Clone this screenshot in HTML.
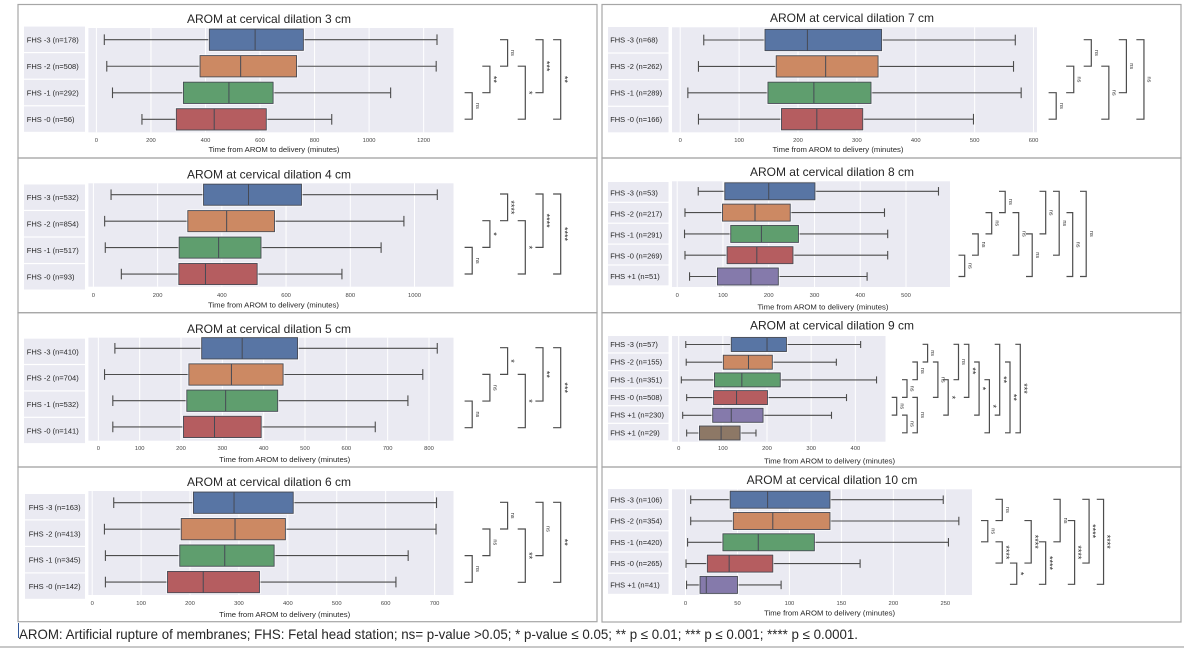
<!DOCTYPE html>
<html lang="en">
<head>
<meta charset="utf-8">
<title>AROM boxplots by cervical dilation</title>
<style>
html,body{margin:0;padding:0;background:#fff;width:1193px;height:649px;overflow:hidden}
svg{display:block;filter:blur(0.3px)}
text{font-family:"Liberation Sans",sans-serif;fill:#262626}
</style>
</head>
<body>
<svg id="figure" xmlns="http://www.w3.org/2000/svg" width="1193" height="649" viewBox="0 0 1193 649">
<text x="19" y="639" font-size="13.6" textLength="839" lengthAdjust="spacingAndGlyphs">AROM: Artificial rupture of membranes; FHS: Fetal head station; ns= p-value &gt;0.05; * p-value ≤ 0.05; ** p ≤ 0.01; *** p ≤ 0.001; **** p ≤ 0.0001.</text>
<line x1="18.5" y1="623" x2="18.5" y2="638" stroke="#2f5597" stroke-width="1"/>
<line x1="0" y1="647" x2="1184" y2="647" stroke="#a8a8a8" stroke-width="1.2"/>
</svg>
<script>
// ---- Chart data: [whisker low, Q1, median, Q3, whisker high] split in named arrays ----
const d3Categories = ['FHS -3 (n=178)','FHS -2 (n=508)','FHS -1 (n=292)','FHS -0 (n=56)'];
const d3Low = [29,38,59,167];
const d3Q1 = [414,380,319,293];
const d3Median = [582,529,486,432];
const d3Q3 = [759,734,648,623];
const d3High = [1249,1246,1079,863];
const d3Ticks = [0,200,400,600,800,1000,1200];
const d3SigFrom = [2,1,0,1,0,0];
const d3SigTo = [3,2,1,3,2,3];
const d3SigLabels = ['ns','**','ns','*','***','**'];

const d4Categories = ['FHS -3 (n=532)','FHS -2 (n=854)','FHS -1 (n=517)','FHS -0 (n=93)'];
const d4Low = [55,35,37,87];
const d4Q1 = [343,294,267,266];
const d4Median = [483,415,390,349];
const d4Q3 = [648,564,522,510];
const d4High = [1071,967,896,774];
const d4Ticks = [0,200,400,600,800,1000];
const d4SigFrom = [2,1,0,1,0,0];
const d4SigTo = [3,2,1,3,2,3];
const d4SigLabels = ['ns','*','****','*','****','****'];

const d5Categories = ['FHS -3 (n=410)','FHS -2 (n=704)','FHS -1 (n=532)','FHS -0 (n=141)'];
const d5Low = [40,15,35,35];
const d5Q1 = [250,219,214,206];
const d5Median = [348,322,308,281];
const d5Q3 = [482,447,434,394];
const d5High = [820,785,749,670];
const d5Ticks = [0,100,200,300,400,500,600,700,800];
const d5SigFrom = [2,1,0,1,0,0];
const d5SigTo = [3,2,1,3,2,3];
const d5SigLabels = ['ns','ns','*','*','**','***'];

const d6Categories = ['FHS -3 (n=163)','FHS -2 (n=413)','FHS -1 (n=345)','FHS -0 (n=142)'];
const d6Low = [44,25,27,27];
const d6Q1 = [207,182,179,154];
const d6Median = [290,292,271,227];
const d6Q3 = [411,395,372,342];
const d6High = [704,703,646,621];
const d6Ticks = [0,100,200,300,400,500,600,700];
const d6SigFrom = [2,1,0,1,0,0];
const d6SigTo = [3,2,1,3,2,3];
const d6SigLabels = ['ns','ns','ns','**','ns','**'];

const d7Categories = ['FHS -3 (n=68)','FHS -2 (n=262)','FHS -1 (n=289)','FHS -0 (n=166)'];
const d7Low = [40,31,13,31];
const d7Q1 = [144,163,149,172];
const d7Median = [216,247,227,232];
const d7Q3 = [342,336,324,310];
const d7High = [569,566,579,498];
const d7Ticks = [0,100,200,300,400,500,600];
const d7SigFrom = [2,1,0,1,0,0];
const d7SigTo = [3,2,1,3,2,3];
const d7SigLabels = ['ns','ns','ns','ns','ns','ns'];

const d8Categories = ['FHS -3 (n=53)','FHS -2 (n=217)','FHS -1 (n=291)','FHS -0 (n=269)','FHS +1 (n=51)'];
const d8Low = [46,17,16,17,27];
const d8Q1 = [104,99,117,109,88];
const d8Median = [200,170,184,174,161];
const d8Q3 = [301,247,265,253,221];
const d8High = [571,453,460,460,415];
const d8Ticks = [0,100,200,300,400,500];
const d8SigFrom = [3,2,1,0,1,2,0,0,1,0];
const d8SigTo = [4,3,2,1,3,4,2,3,4,4];
const d8SigLabels = ['ns','ns','ns','ns','ns','ns','ns','ns','ns','ns'];

const d9Categories = ['FHS -3 (n=57)','FHS -2 (n=155)','FHS -1 (n=351)','FHS -0 (n=508)','FHS +1 (n=230)','FHS +1 (n=29)'];
const d9Low = [16,17,6,18,9,18];
const d9Q1 = [119,101,81,79,77,47];
const d9Median = [200,158,143,131,119,96];
const d9Q3 = [244,212,230,201,191,139];
const d9High = [412,357,448,380,346,175];
const d9Ticks = [0,100,200,300,400];
const d9SigFrom = [3,4,2,1,3,0,1,2,0,0,1,2,0,1,0];
const d9SigTo = [4,5,3,2,5,1,3,4,2,3,4,5,4,5,5];
const d9SigSlots = [0,1,1,2,2,3,4,5,6,7,8,9,10,11,12];
const d9SigLabels = ['ns','ns','ns','ns','ns','ns','ns','*','ns','**','*','*','**','**','***'];

const d10Categories = ['FHS -3 (n=106)','FHS -2 (n=354)','FHS -1 (n=420)','FHS -0 (n=265)','FHS +1 (n=41)'];
const d10Low = [5,5,2,0.5,1];
const d10Q1 = [43,46,36,21,14];
const d10Median = [79,84,70,42,20];
const d10Q3 = [139,139,124,84,50];
const d10High = [248,263,253,168,92];
const d10Ticks = [0,50,100,150,200,250];
const d10SigFrom = [1,0,2,3,1,2,0,1,0,0];
const d10SigTo = [2,1,3,4,3,4,2,4,3,4];
const d10SigSlots = [0,1,1,2,3,4,5,6,7,8];
const d10SigLabels = ['ns','ns','****','*','****','****','ns','****','****','****'];

const boxColors = ['#5875a4','#cc8963','#5f9e6e','#b55d60','#857aab','#8d7866'];

// ---- Layout (pixels) kept apart from the data ----
const charts = [
 {title:'AROM at cervical dilation 3 cm',cat:d3Categories,low:d3Low,q1:d3Q1,med:d3Median,q3:d3Q3,high:d3High,ticks:d3Ticks,from:d3SigFrom,to:d3SigTo,sig:d3SigLabels,
  frame:[18,4.5,579,153.5],titleX:269,titleY:23,lab:[24,85,26.8],plot:[88.4,453.5,28,132.3],x0:96.4,k:.2727,boxY:39.7,boxStep:26.55,boxH:21.3,labY:39.7,labStep:26.55,labTop:26.6,labBot:133,brX:464.6,brStep:17.7,brW:7.6,brY:39.7,brRow:26.5,tickY:142,xLabX:274,xLabY:152},
 {title:'AROM at cervical dilation 4 cm',cat:d4Categories,low:d4Low,q1:d4Q1,med:d4Median,q3:d4Q3,high:d4High,ticks:d4Ticks,from:d4SigFrom,to:d4SigTo,sig:d4SigLabels,
  frame:[18,158,579,154.7],titleX:269,titleY:178.5,lab:[24,85,26.8],plot:[88.4,453.5,183.3,286.7],x0:93.4,k:.3211,boxY:194.7,boxStep:26.45,boxH:21.1,labY:197.3,labStep:26.6,labTop:184.5,labBot:290.7,brX:464.6,brStep:17.7,brW:7.6,brY:194,brRow:26.67,tickY:297,xLabX:273.5,xLabY:307.5},
 {title:'AROM at cervical dilation 5 cm',cat:d5Categories,low:d5Low,q1:d5Q1,med:d5Median,q3:d5Q3,high:d5High,ticks:d5Ticks,from:d5SigFrom,to:d5SigTo,sig:d5SigLabels,
  frame:[18,312.7,579,154.3],titleX:269,titleY:333,lab:[24,85,26.8],plot:[88.4,453.5,337.7,440.7],x0:98.35,k:.4133,boxY:348.3,boxStep:26.2,boxH:21.3,labY:351.7,labStep:26.4,labTop:338.7,labBot:444.3,brX:464.6,brStep:17.7,brW:7.6,brY:347.7,brRow:26.67,tickY:450,xLabX:284.7,xLabY:462},
 {title:'AROM at cervical dilation 6 cm',cat:d6Categories,low:d6Low,q1:d6Q1,med:d6Median,q3:d6Q3,high:d6High,ticks:d6Ticks,from:d6SigFrom,to:d6SigTo,sig:d6SigLabels,
  frame:[18,467,579,154.7],titleX:269,titleY:486,lab:[25,85,28.7],plot:[88.4,453.5,491,595],x0:92.2,k:.4891,boxY:502.7,boxStep:26.45,boxH:21.3,labY:507.3,labStep:26.4,labTop:494,labBot:600,brX:464.6,brStep:17.7,brW:7.6,brY:502.3,brRow:26.67,tickY:605,xLabX:284.7,xLabY:617},
 {title:'AROM at cervical dilation 7 cm',cat:d7Categories,low:d7Low,q1:d7Q1,med:d7Median,q3:d7Q3,high:d7High,ticks:d7Ticks,from:d7SigFrom,to:d7SigTo,sig:d7SigLabels,
  frame:[602,4.5,579,153.5],titleX:852,titleY:22,lab:[608,668.5,610.2],plot:[672,1037,27.3,132.3],x0:680.2,k:.5889,boxY:40,boxStep:26.4,boxH:21.3,labY:40,labStep:26.4,labTop:27,labBot:133.5,brX:1048.6,brStep:17.55,brW:7.6,brY:39.7,brRow:26.5,tickY:142,xLabX:838,xLabY:152},
 {title:'AROM at cervical dilation 8 cm',cat:d8Categories,low:d8Low,q1:d8Q1,med:d8Median,q3:d8Q3,high:d8High,ticks:d8Ticks,from:d8SigFrom,to:d8SigTo,sig:d8SigLabels,
  frame:[602,158,579,154.7],titleX:832,titleY:176,lab:[608,668.5,610.2],plot:[672,950,181.3,287],x0:677.2,k:.4576,boxY:191.3,boxStep:21.3,boxH:17,labY:193,labStep:20.9,labTop:182,labBot:286.5,brX:958.5,brStep:13.5,brW:6.2,brY:191.3,brRow:21.3,tickY:297,xLabX:823,xLabY:309.5},
 {title:'AROM at cervical dilation 9 cm',cat:d9Categories,low:d9Low,q1:d9Q1,med:d9Median,q3:d9Q3,high:d9High,ticks:d9Ticks,from:d9SigFrom,to:d9SigTo,sig:d9SigLabels,slots:d9SigSlots,
  frame:[602,312.7,579,154.3],titleX:832,titleY:329.5,lab:[608,668.5,610.2],plot:[672,885.5,336,441.7],x0:678.7,k:.4416,boxY:344.5,boxStep:17.7,boxH:14,labY:344.3,labStep:17.7,labTop:336,labBot:441.5,brX:891.7,brStep:10.3,brW:5,brY:344.3,brRow:17.7,tickY:450,xLabX:829.6,xLabY:463.5},
 {title:'AROM at cervical dilation 10 cm',cat:d10Categories,low:d10Low,q1:d10Q1,med:d10Median,q3:d10Q3,high:d10High,ticks:d10Ticks,from:d10SigFrom,to:d10SigTo,sig:d10SigLabels,slots:d10SigSlots,
  frame:[602,467,579,155],titleX:832,titleY:484,lab:[608,668.5,610.2],plot:[672,972,489.3,595],x0:685.5,k:1.0393,boxY:499.7,boxStep:21.3,boxH:17,labY:499.7,labStep:21.25,labTop:489,labBot:595,brX:981,brStep:14.47,brW:6.8,brY:499.3,brRow:21.25,tickY:605,xLabX:829.6,xLabY:615.5}
];

const NS = 'http://www.w3.org/2000/svg';
const svg = document.getElementById('figure');
function make(parent, tag, attrs, content) {
  const el = document.createElementNS(NS, tag);
  for (const key in attrs) el.setAttribute(key, attrs[key]);
  if (content !== undefined) el.textContent = content;
  parent.appendChild(el);
  return el;
}

charts.forEach(function (c) {
  const xScale = function (v) { return c.x0 + v * c.k; };
  const boxRow = function (i) { return c.boxY + i * c.boxStep; };
  const labelRow = function (i) { return c.labY + i * c.labStep; };
  const bracketRow = function (i) { return c.brY + i * c.brRow; };

  const panel = make(svg, 'g', {});
  
  

  const frame = make(panel, 'rect', {x:c.frame[0], y:c.frame[1], width:c.frame[2], height:c.frame[3], fill:'none', stroke:'#a6a6a6', 'stroke-width':1.2});
  
  

  const title = make(panel, 'text', {x:c.titleX, y:c.titleY, 'text-anchor':'middle', 'font-size':12}, c.title);
  
  

  const plotBg = make(panel, 'rect', {x:c.plot[0], y:c.plot[2], width:c.plot[1]-c.plot[0], height:c.plot[3]-c.plot[2], fill:'#eaeaf2'});
  
  

  c.ticks.forEach(function (t) {
    const grid = make(panel, 'line', {x1:xScale(t), x2:xScale(t), y1:c.plot[2], y2:c.plot[3], stroke:'#ffffff', 'stroke-width':1});
    
    

    const tick = make(panel, 'text', {x:xScale(t), y:c.tickY, 'text-anchor':'middle', 'font-size':5.8, style:'fill:#444'}, String(t));
    
    
  });

  const xTitle = make(panel, 'text', {x:c.xLabX, y:c.xLabY, 'text-anchor':'middle', 'font-size':7.3, textLength:131, lengthAdjust:'spacingAndGlyphs'}, 'Time from AROM to delivery (minutes)');
  
  

  const labStep = (c.labBot - c.labTop) / c.cat.length;
  c.cat.forEach(function (name, i) {
    const labelBg = make(panel, 'rect', {x:c.lab[0], y:c.labTop + i*labStep, width:c.lab[1]-c.lab[0], height:labStep-1.2, fill:'#eaeaf2'});
    
    

    const label = make(panel, 'text', {x:c.lab[2], y:labelRow(i)+2.6, 'font-size':7.5}, name);
    
    

    const y = boxRow(i);
    const capH = c.boxH / 4;
    const whisker = make(panel, 'line', {x1:xScale(c.low[i]), x2:xScale(c.high[i]), y1:y, y2:y, stroke:'#4c4c4c', 'stroke-width':1.1});
    
    

    const capLow = make(panel, 'line', {x1:xScale(c.low[i]), x2:xScale(c.low[i]), y1:y-capH, y2:y+capH, stroke:'#4c4c4c', 'stroke-width':1.1});
    
    

    const capHigh = make(panel, 'line', {x1:xScale(c.high[i]), x2:xScale(c.high[i]), y1:y-capH, y2:y+capH, stroke:'#4c4c4c', 'stroke-width':1.1});
    
    

    const halo = make(panel, 'rect', {x:xScale(c.q1[i])-0.8, y:y-c.boxH/2-0.8, width:xScale(c.q3[i])-xScale(c.q1[i])+1.6, height:c.boxH+1.6, fill:'none', stroke:'#ffffff', 'stroke-width':1, 'stroke-opacity':0.7});
    
    

    const box = make(panel, 'rect', {x:xScale(c.q1[i]), y:y-c.boxH/2, width:xScale(c.q3[i])-xScale(c.q1[i]), height:c.boxH, fill:boxColors[i], stroke:'#464a55', 'stroke-width':0.9});
    
    

    const median = make(panel, 'line', {x1:xScale(c.med[i]), x2:xScale(c.med[i]), y1:y-c.boxH/2, y2:y+c.boxH/2, stroke:'#464a55', 'stroke-width':1});
    
    
  });

  c.sig.forEach(function (text, i) {
    const slot = c.slots ? c.slots[i] : i;
    const left = c.brX + slot * c.brStep;
    const right = left + c.brW;
    const top = bracketRow(c.from[i]);
    const bottom = bracketRow(c.to[i]);
    const bracket = make(panel, 'path', {d:'M' + left + ' ' + top + 'H' + right + 'V' + bottom + 'H' + left, fill:'none', stroke:'#4d4d4d', 'stroke-width':1.2});
    
    

    const isNs = text === 'ns';
    const cx = right + (isNs ? 3.6 : 0.6);
    const cy = (top + bottom) / 2;
    const size = isNs ? 5.5 : 9;
    const sigLabel = make(panel, 'text', {x:cx, y:cy, 'text-anchor':'middle', 'font-size':size, transform:'rotate(90 ' + cx + ' ' + cy + ')', style:'fill:#333'}, text);
    
    
  });
});
</script>
</body>
</html>
